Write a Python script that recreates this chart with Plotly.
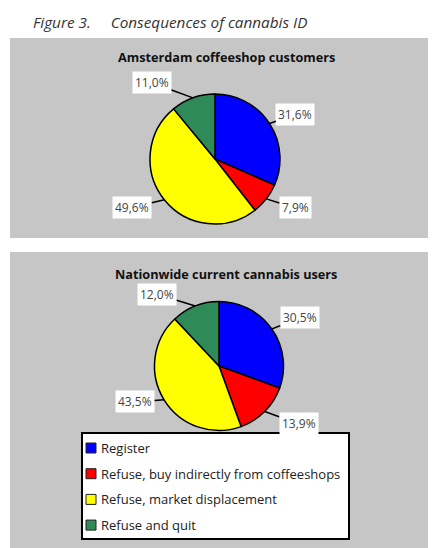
import math
import plotly.graph_objects as go

# ---- data ----
categories = ["Register", "Refuse, buy indirectly from coffeeshops",
              "Refuse, market displacement", "Refuse and quit"]
amsterdam_values = [31.6, 7.9, 49.6, 11.0]
nationwide_values = [30.5, 13.9, 43.5, 12.0]
panel_titles = ["Amsterdam coffeeshop customers", "Nationwide current cannabis users"]
figure_title = "Figure 3.&nbsp;&nbsp;&nbsp;&nbsp;&nbsp;Consequences of cannabis ID"
colors = ["#0000FF", "#FF0000", "#FFFF00", "#2E8B57"]

# the page body has an 8px margin, so the figure is offset by it
OFF = 8
W, H = 436 - OFF, 548 - OFF
FONT = "Open Sans"


def px(x):
    return (x - OFF) / W


def py(y):
    return 1 - (y - OFF) / H


fig = go.Figure()

# pies: (values, center px, radius px, label offsets px)
pies = [
    (amsterdam_values, (215, 159), 65, [(26, -9), (29, 9), (-32, 8), (-41, -15)]),
    (nationwide_values, (219, 366), 64.5, [(28, -11), (34, 12), (-29, 2), (-38, -12)]),
]

shapes = []
annotations = []

# gray panels
for (y0, y1) in [(38, 238), (252, 552)]:
    shapes.append(dict(type="rect", xref="paper", yref="paper", layer="below",
                       x0=px(10), x1=px(445), y0=py(y1), y1=py(y0),
                       fillcolor="#C6C6C6", line=dict(width=0)))

for i, (vals, (cx, cy), r, offs) in enumerate(pies):
    fig.add_trace(go.Pie(
        labels=categories, values=vals, sort=False, direction="clockwise",
        rotation=0, textinfo="none", hoverinfo="label+percent",
        marker=dict(colors=colors, line=dict(color="black", width=1.5)),
        domain=dict(x=[px(cx - r), px(cx + r)], y=[py(cy + r), py(cy - r)]),
        showlegend=False,
    ))
    total = sum(vals)
    cum = 0.0
    for v, (ax, ay) in zip(vals, offs):
        mid = (cum + v / 2) / total * 2 * math.pi
        cum += v
        ex = cx + r * math.sin(mid)
        ey = cy - r * math.cos(mid)
        annotations.append(dict(
            xref="paper", yref="paper", x=px(ex), y=py(ey), ax=ax, ay=ay,
            xanchor="center", yanchor="middle",
            text=f"{v:.1f}%".replace(".", ","), showarrow=True, arrowhead=0,
            arrowwidth=1.5, arrowcolor="black", bgcolor="white", borderpad=2,
            font=dict(family=FONT, size=12, color="#444444")))

# panel titles
for t, ty in zip(panel_titles, [57, 274]):
    annotations.append(dict(xref="paper", yref="paper", x=px(226), y=py(ty),
                            xanchor="center", yanchor="middle",
                            text=f"<b>{t}</b>", showarrow=False,
                            font=dict(family=FONT, size=12.7, color="#111111")))

# figure title
annotations.append(dict(xref="paper", yref="paper", x=px(31), y=py(22),
                        xanchor="left", yanchor="middle",
                        text=f"<i>{figure_title}</i>", showarrow=False,
                        font=dict(family=FONT, size=15.3, color="#333333")))

# legend box
shapes.append(dict(type="rect", xref="paper", yref="paper",
                   x0=px(82), x1=px(349), y0=py(539), y1=py(433),
                   fillcolor="white", line=dict(color="black", width=2)))
for k, (cat, col) in enumerate(zip(categories, colors)):
    yc = 448 + k * 25.7
    shapes.append(dict(type="rect", xref="paper", yref="paper",
                       x0=px(86), x1=px(96), y0=py(yc + 5), y1=py(yc - 5),
                       fillcolor=col, line=dict(color="#222222", width=1)))
    annotations.append(dict(xref="paper", yref="paper", x=px(99), y=py(yc),
                            xanchor="left", yanchor="middle",
                            text=cat, showarrow=False,
                            font=dict(family=FONT, size=13, color="#222222")))

fig.update_layout(
    width=W, height=H, margin=dict(l=0, r=0, t=0, b=0),
    paper_bgcolor="white", plot_bgcolor="white",
    shapes=shapes, annotations=annotations,
)

fig.write_html("out.html")
